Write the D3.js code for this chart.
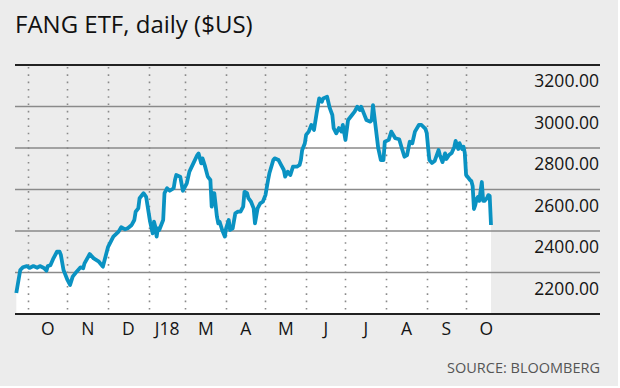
<!DOCTYPE html>
<html>
<head>
<meta charset="utf-8">
<script src="https://d3js.org/d3.v7.min.js"></script>
<style>
  body { margin: 0; background: #fff; }
  text { font-family: "Open Sans", sans-serif; }
  .title { font-size: 24px; fill: #111; }
  .axis-label { font-size: 17.5px; fill: #151515; }
  .source { font-size: 14.5px; fill: #555; }
</style>
</head>
<body>
<div id="chart"></div>
<script>
// FANG ETF daily close
const priceDates = [
  '2017-10-23','2017-10-26','2017-10-28','2017-10-31','2017-11-02','2017-11-05','2017-11-08','2017-11-10',
  '2017-11-13','2017-11-15','2017-11-16','2017-11-18','2017-11-20','2017-11-23','2017-11-25','2017-11-26',
  '2017-11-28','2017-11-29','2017-12-01','2017-12-03','2017-12-05','2017-12-08','2017-12-11','2017-12-13',
  '2017-12-14','2017-12-18','2017-12-21','2017-12-25','2017-12-28','2018-01-01','2018-01-05','2018-01-09',
  '2018-01-11','2018-01-14','2018-01-16','2018-01-19','2018-01-21','2018-01-22','2018-01-24','2018-01-25',
  '2018-01-28','2018-01-30','2018-02-01','2018-02-02','2018-02-04','2018-02-05','2018-02-06','2018-02-07',
  '2018-02-08','2018-02-09','2018-02-12','2018-02-13','2018-02-15','2018-02-17','2018-02-20','2018-02-21',
  '2018-02-22','2018-02-25','2018-02-27','2018-03-02','2018-03-04','2018-03-07','2018-03-10','2018-03-11',
  '2018-03-13','2018-03-14','2018-03-16','2018-03-18','2018-03-20','2018-03-21','2018-03-22','2018-03-23',
  '2018-03-25','2018-03-26','2018-03-27','2018-03-29','2018-03-31','2018-04-01','2018-04-03','2018-04-04',
  '2018-04-06','2018-04-08','2018-04-10','2018-04-12','2018-04-14','2018-04-15','2018-04-17','2018-04-18',
  '2018-04-20','2018-04-22','2018-04-23','2018-04-25','2018-04-27','2018-04-29','2018-05-01','2018-05-03',
  '2018-05-04','2018-05-07','2018-05-08','2018-05-11','2018-05-13','2018-05-15','2018-05-16','2018-05-18',
  '2018-05-20','2018-05-22','2018-05-25','2018-05-27','2018-05-28','2018-05-29','2018-05-30','2018-05-31',
  '2018-06-01','2018-06-03','2018-06-05','2018-06-07','2018-06-09','2018-06-11','2018-06-13','2018-06-14',
  '2018-06-17','2018-06-19','2018-06-21','2018-06-22','2018-06-24','2018-06-26','2018-06-28','2018-06-29',
  '2018-07-01','2018-07-03','2018-07-06','2018-07-08','2018-07-10','2018-07-12','2018-07-13','2018-07-15',
  '2018-07-17','2018-07-20','2018-07-21','2018-07-22','2018-07-24','2018-07-26','2018-07-28','2018-07-30',
  '2018-07-31','2018-08-03','2018-08-05','2018-08-08','2018-08-11','2018-08-13','2018-08-15','2018-08-17',
  '2018-08-19','2018-08-21','2018-08-23','2018-08-26','2018-08-28','2018-08-31','2018-09-01','2018-09-02',
  '2018-09-03','2018-09-05','2018-09-07','2018-09-10','2018-09-11','2018-09-13','2018-09-15','2018-09-16',
  '2018-09-18','2018-09-20','2018-09-22','2018-09-23','2018-09-25','2018-09-26','2018-09-28','2018-09-29',
  '2018-09-30','2018-10-01','2018-10-03','2018-10-04','2018-10-05','2018-10-06','2018-10-07','2018-10-08',
  '2018-10-09','2018-10-10','2018-10-11','2018-10-13','2018-10-14','2018-10-15','2018-10-17','2018-10-18',
  '2018-10-19','2018-10-20'
];
const priceValues = [
  2101, 2212, 2225, 2231, 2222, 2231, 2223, 2231,
  2222, 2209, 2231, 2235, 2264, 2300, 2300, 2284,
  2212, 2196, 2164, 2140, 2180, 2204, 2225, 2220,
  2244, 2289, 2268, 2252, 2228, 2324, 2373, 2397,
  2418, 2408, 2413, 2429, 2453, 2493, 2509, 2558,
  2582, 2565, 2485, 2445, 2389, 2445, 2421, 2373,
  2413, 2405, 2453, 2582, 2606, 2594, 2606, 2646,
  2670, 2662, 2594, 2630, 2686, 2726, 2766, 2774,
  2726, 2750, 2710, 2662, 2646, 2517, 2582, 2582,
  2469, 2437, 2445, 2405, 2373, 2413, 2453, 2405,
  2413, 2485, 2493, 2493, 2517, 2589, 2582, 2558,
  2541, 2509, 2437, 2509, 2533, 2541, 2573, 2646,
  2678, 2742, 2750, 2742, 2718, 2694, 2662, 2686,
  2670, 2710, 2710, 2718, 2742, 2790, 2806, 2822,
  2863, 2879, 2911, 2887, 2967, 3039, 3023, 3039,
  3047, 2993, 2959, 2896, 2871, 2896, 2879, 2911,
  2839, 2935, 2959, 2975, 2999, 2983, 2999, 2967,
  2935, 2927, 2935, 3007, 2903, 2799, 2742, 2742,
  2830, 2839, 2879, 2847, 2842, 2799, 2758, 2766,
  2830, 2823, 2879, 2911, 2911, 2892, 2872, 2805,
  2742, 2728, 2737, 2790, 2766, 2732, 2774, 2747,
  2766, 2776, 2805, 2834, 2795, 2823, 2795, 2806,
  2776, 2670, 2654, 2646, 2641, 2617, 2506, 2525,
  2554, 2564, 2545, 2636, 2545, 2545, 2559, 2573,
  2569, 2429
];

const yTicks = [2000, 2200, 2400, 2600, 2800, 3000, 3200];
const yLabels = ['2200.00', '2400.00', '2600.00', '2800.00', '3000.00', '3200.00'];
const monthStarts = ['2017-11-01','2017-12-01','2018-01-01','2018-02-01','2018-03-01','2018-04-01',
  '2018-05-01','2018-06-01','2018-07-01','2018-08-01','2018-09-01','2018-10-01'];
const monthLabels = ['O', 'N', 'D', 'J18', 'M', 'A', 'M', 'J', 'J', 'A', 'S', 'O'];

const parseDate = d3.timeParse('%Y-%m-%d');

const width = 620, height = 388;
const plot = {left: 15, right: 600, top: 65, bottom: 314, dataEnd: 491};

const svg = d3.select('#chart').append('svg')
    .attr('width', width)
    .attr('height', height);

// background
svg.append('rect')
    .attr('width', 618)
    .attr('height', 386)
    .attr('fill', '#ececec');

svg.append('text')
    .attr('class', 'title')
    .attr('x', 15)
    .attr('y', 33)
    .text('FANG ETF, daily ($US)');

const data = priceDates.map((d, i) => ({date: parseDate(d), value: priceValues[i]}));

const x = d3.scaleTime()
    .domain([parseDate('2017-10-22'), parseDate('2018-10-20')])
    .range([plot.left, plot.dataEnd]);

const y = d3.scaleLinear()
    .domain([2000, 3200])
    .range([plot.bottom, plot.top]);

// white area under the line
const area = d3.area()
    .x(d => x(d.date))
    .y0(plot.bottom)
    .y1(d => y(d.value));

svg.append('path')
    .datum(data)
    .attr('fill', '#fff')
    .attr('d', area);

// horizontal gridlines
svg.selectAll('.grid-h')
    .data(yTicks.slice(1, -1))
  .join('line')
    .attr('class', 'grid-h')
    .attr('x1', plot.left)
    .attr('x2', plot.right)
    .attr('y1', d => y(d))
    .attr('y2', d => y(d))
    .attr('stroke', '#8a8a8a')
    .attr('stroke-width', 1.5);

// dotted month lines
svg.selectAll('.grid-v')
    .data(monthStarts.map(parseDate))
  .join('line')
    .attr('class', 'grid-v')
    .attr('x1', d => Math.round(x(d)) + 0.5)
    .attr('x2', d => Math.round(x(d)) + 0.5)
    .attr('y1', plot.top + 2)
    .attr('y2', plot.bottom)
    .attr('stroke', '#8a8a8a')
    .attr('stroke-width', 1.6)
    .attr('stroke-dasharray', '1.6 5.7');

// top and bottom rules
[yTicks[0], yTicks[yTicks.length - 1]].forEach(v => {
  svg.append('line')
      .attr('x1', plot.left)
      .attr('x2', plot.right)
      .attr('y1', y(v))
      .attr('y2', y(v))
      .attr('stroke', '#222')
      .attr('stroke-width', 2);
});

// the price line
const line = d3.line()
    .x(d => x(d.date))
    .y(d => y(d.value));

svg.append('path')
    .datum(data)
    .attr('fill', 'none')
    .attr('stroke', '#0a92c2')
    .attr('stroke-width', 3.8)
    .attr('stroke-linejoin', 'round')
    .attr('d', line);

// y labels sit under their gridline
svg.selectAll('.y-label')
    .data(yTicks.slice(1))
  .join('text')
    .attr('class', 'axis-label y-label')
    .attr('x', 599)
    .attr('y', d => y(d) + 22)
    .attr('text-anchor', 'end')
    .text((d, i) => yLabels[i]);

// month labels centred in each month
svg.selectAll('.x-label')
    .data(monthStarts.map(parseDate))
  .join('text')
    .attr('class', 'axis-label x-label')
    .attr('x', d => (x(d) + x(d3.timeMonth.offset(d, 1))) / 2)
    .attr('y', 335)
    .attr('text-anchor', 'middle')
    .text((d, i) => monthLabels[i]);

svg.append('text')
    .attr('class', 'source')
    .attr('x', 600)
    .attr('y', 373)
    .attr('text-anchor', 'end')
    .text('SOURCE: BLOOMBERG');
</script>
</body>
</html>
